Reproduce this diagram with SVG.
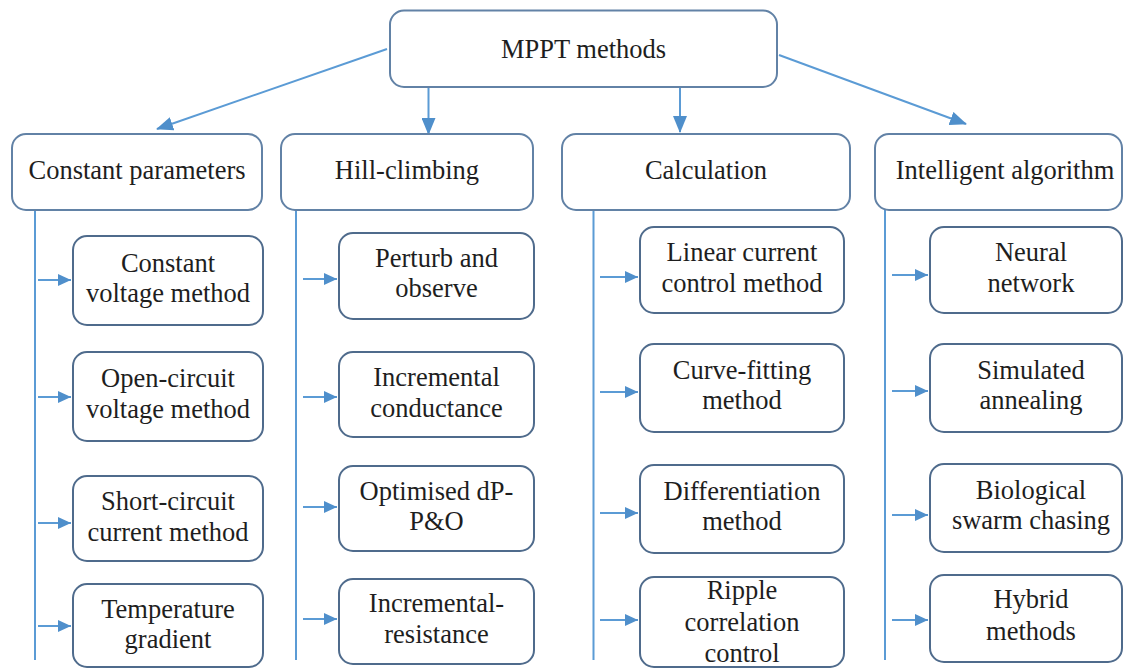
<svg xmlns="http://www.w3.org/2000/svg" width="1124" height="669" viewBox="0 0 1124 669">
<defs>
<marker id="ah" markerUnits="userSpaceOnUse" markerWidth="18" markerHeight="14" refX="16" refY="7" orient="auto">
<path d="M0,0 L17,7 L0,14 Z" fill="#4f8fcb"/>
</marker>
<marker id="ahs" markerUnits="userSpaceOnUse" markerWidth="14" markerHeight="12" refX="13" refY="6" orient="auto">
<path d="M0,0 L13,6 L0,12 Z" fill="#4f8fcb"/>
</marker>
</defs>
<style>
.hdr{fill:#fff;stroke:#6282a6;stroke-width:2}
.box{fill:#fff;stroke:#4f6b8c;stroke-width:2}
.t{font-family:'Times New Roman','Liberation Serif','DejaVu Serif',serif;font-size:26.5px;fill:#1e1e1e;text-anchor:middle}
.ln{stroke:#5b9bd5;stroke-width:2;fill:none}
.main{stroke:#5b9bd5;stroke-width:2;fill:none;marker-end:url(#ah)}
.sm{stroke:#5b9bd5;stroke-width:2;fill:none;marker-end:url(#ahs)}
</style>
<rect width="1124" height="669" fill="#fff"/>
<g id="connectors">
<line class="main" x1="387" y1="49" x2="157" y2="129"/>
<line class="main" x1="428.5" y1="87" x2="428.5" y2="134"/>
<line class="main" x1="680" y1="87" x2="680" y2="132"/>
<line class="main" x1="779" y1="55" x2="966" y2="124"/>
<line class="ln" x1="35" y1="210" x2="35" y2="660"/>
<line class="ln" x1="296" y1="210" x2="296" y2="660"/>
<line class="ln" x1="593.5" y1="210" x2="593.5" y2="660"/>
<line class="ln" x1="885" y1="210" x2="885" y2="660"/>
<line class="sm" x1="38" y1="280" x2="71" y2="280"/>
<line class="sm" x1="38" y1="397" x2="71" y2="397"/>
<line class="sm" x1="38" y1="523" x2="71" y2="523"/>
<line class="sm" x1="38" y1="626" x2="71" y2="626"/>
<line class="sm" x1="303" y1="279" x2="337" y2="279"/>
<line class="sm" x1="303" y1="397" x2="337" y2="397"/>
<line class="sm" x1="303" y1="507" x2="337" y2="507"/>
<line class="sm" x1="303" y1="619" x2="337" y2="619"/>
<line class="sm" x1="600" y1="277" x2="638" y2="277"/>
<line class="sm" x1="600" y1="392" x2="638" y2="392"/>
<line class="sm" x1="600" y1="513" x2="638" y2="513"/>
<line class="sm" x1="600" y1="620" x2="638" y2="620"/>
<line class="sm" x1="892" y1="275" x2="928" y2="275"/>
<line class="sm" x1="892" y1="391" x2="928" y2="391"/>
<line class="sm" x1="892" y1="515" x2="928" y2="515"/>
<line class="sm" x1="892" y1="620" x2="928" y2="620"/>
</g>
<g id="root"><rect class="hdr" x="390" y="10.5" width="387" height="76.5" rx="14"/><text class="t" x="583.5" y="58">MPPT methods</text></g>
<g id="h-constant"><rect class="hdr" x="12" y="134" width="250" height="76" rx="14"/><text class="t" x="137" y="179">Constant parameters</text></g>
<g id="h-hill"><rect class="hdr" x="281" y="134" width="252" height="76" rx="14"/><text class="t" x="407" y="179">Hill-climbing</text></g>
<g id="h-calc"><rect class="hdr" x="562" y="134" width="288" height="76" rx="14"/><text class="t" x="706" y="179">Calculation</text></g>
<g id="h-intel"><rect class="hdr" x="875" y="134" width="247" height="76" rx="14"/><text class="t" x="1005" y="179">Intelligent algorithm</text></g>

<g id="c1-1"><rect class="box" x="73" y="236" width="190" height="89" rx="14"/><text class="t" x="168" y="272">Constant</text><text class="t" x="168" y="302">voltage method</text></g>
<g id="c1-2"><rect class="box" x="73" y="352" width="190" height="89" rx="14"/><text class="t" x="168" y="387">Open-circuit</text><text class="t" x="168" y="418">voltage method</text></g>
<g id="c1-3"><rect class="box" x="73" y="476" width="190" height="85" rx="14"/><text class="t" x="168" y="510">Short-circuit</text><text class="t" x="168" y="541">current method</text></g>
<g id="c1-4"><rect class="box" x="73" y="584" width="190" height="83" rx="14"/><text class="t" x="168" y="618">Temperature</text><text class="t" x="168" y="648">gradient</text></g>

<g id="c2-1"><rect class="box" x="339" y="233" width="195" height="86" rx="14"/><text class="t" x="436.5" y="267">Perturb and</text><text class="t" x="436.5" y="297">observe</text></g>
<g id="c2-2"><rect class="box" x="339" y="352" width="195" height="85" rx="14"/><text class="t" x="436.5" y="386">Incremental</text><text class="t" x="436.5" y="417">conductance</text></g>
<g id="c2-3"><rect class="box" x="339" y="466" width="195" height="85" rx="14"/><text class="t" x="436.5" y="500">Optimised dP-</text><text class="t" x="436.5" y="530">P&amp;O</text></g>
<g id="c2-4"><rect class="box" x="339" y="579" width="195" height="85" rx="14"/><text class="t" x="436.5" y="612">Incremental-</text><text class="t" x="436.5" y="643">resistance</text></g>

<g id="c3-1"><rect class="box" x="640" y="227" width="204" height="86" rx="14"/><text class="t" x="742" y="261">Linear current</text><text class="t" x="742" y="292">control method</text></g>
<g id="c3-2"><rect class="box" x="640" y="344" width="204" height="88" rx="14"/><text class="t" x="742" y="379">Curve-fitting</text><text class="t" x="742" y="409">method</text></g>
<g id="c3-3"><rect class="box" x="640" y="465" width="204" height="88" rx="14"/><text class="t" x="742" y="500">Differentiation</text><text class="t" x="742" y="530">method</text></g>
<g id="c3-4"><rect class="box" x="640" y="577" width="204" height="90" rx="14"/><text class="t" x="742" y="599">Ripple</text><text class="t" x="742" y="631">correlation</text><text class="t" x="742" y="662">control</text></g>

<g id="c4-1"><rect class="box" x="930" y="227" width="192" height="86" rx="14"/><text class="t" x="1031" y="261">Neural</text><text class="t" x="1031" y="292">network</text></g>
<g id="c4-2"><rect class="box" x="930" y="344" width="192" height="88" rx="14"/><text class="t" x="1031" y="379">Simulated</text><text class="t" x="1031" y="409">annealing</text></g>
<g id="c4-3"><rect class="box" x="930" y="464" width="192" height="88" rx="14"/><text class="t" x="1031" y="499">Biological</text><text class="t" x="1031" y="529">swarm chasing</text></g>
<g id="c4-4"><rect class="box" x="930" y="575" width="192" height="87" rx="14"/><text class="t" x="1031" y="608">Hybrid</text><text class="t" x="1031" y="640">methods</text></g>
</svg>
